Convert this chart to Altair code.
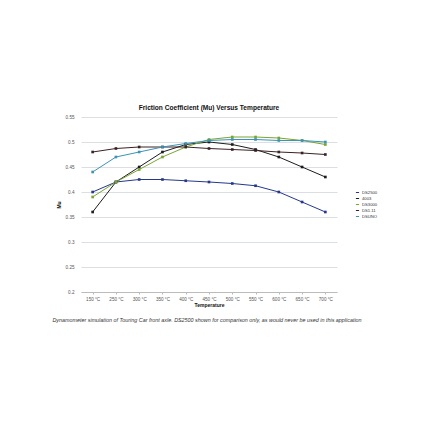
import altair as alt
import pandas as pd

temps = ["150 °C", "250 °C", "300 °C", "350 °C", "400 °C", "450 °C", "500 °C", "550 °C", "600 °C", "650 °C", "700 °C"]
series_names = ["DS2500", "4003", "DS3000", "DS1.11", "DSUNO"]
ds2500 = [0.40, 0.42, 0.425, 0.425, 0.4225, 0.42, 0.417, 0.4125, 0.40, 0.38, 0.36]
s4003 = [0.36, 0.42, 0.45, 0.48, 0.495, 0.50, 0.495, 0.485, 0.47, 0.45, 0.43]
ds3000 = [0.39, 0.42, 0.445, 0.47, 0.49, 0.505, 0.51, 0.51, 0.508, 0.503, 0.495]
ds111 = [0.48, 0.487, 0.49, 0.49, 0.49, 0.487, 0.485, 0.483, 0.48, 0.478, 0.475]
dsuno = [0.44, 0.47, 0.48, 0.49, 0.497, 0.503, 0.505, 0.505, 0.503, 0.503, 0.50]
colors = ["#26388c", "#1c1c1c", "#78a532", "#3a2224", "#3c93b6"]
y_ticks = [0.2, 0.25, 0.3, 0.35, 0.4, 0.45, 0.5, 0.55]
caption = "Dynamometer simulation of Touring Car front axle. DS2500 shown for comparison only, as would never be used in this application"

rows = []
for name, vals in zip(series_names, [ds2500, s4003, ds3000, ds111, dsuno]):
    for t, v in zip(temps, vals):
        rows.append({"Temperature": t, "Mu": v, "Series": name})
df = pd.DataFrame(rows)

FONT = "Liberation Sans"

x = alt.X("Temperature:N", sort=temps,
          scale=alt.Scale(type="point", padding=0.5),
          axis=alt.Axis(title="Temperature", labelAngle=0, labelFontSize=4.6, labelColor="#555",
                        titleFontSize=5, titleFontWeight="bold", titleColor="#111", titlePadding=2,
                        domainColor="#bbb", tickColor="#bbb", tickSize=2, labelPadding=2, grid=False))
y = alt.Y("Mu:Q", scale=alt.Scale(domain=[0.2, 0.55], nice=False, zero=False),
          axis=alt.Axis(title="Mu", values=y_ticks, format="~g", labelFontSize=4.6, labelColor="#555",
                        titleFontSize=5, titleFontWeight="bold", titleColor="#111", titlePadding=4,
                        domain=False, ticks=False, labelPadding=7, gridColor="#d2d6dc", gridWidth=0.8))
color = alt.Color("Series:N", scale=alt.Scale(domain=series_names, range=colors),
                  legend=alt.Legend(title=None, orient="none", legendX=274, legendY=73,
                                    labelFontSize=4.2, labelColor="#333", symbolSize=10,
                                    symbolType="stroke", symbolStrokeWidth=1, rowPadding=1,
                                    labelOffset=2, symbolOffset=0))

lines = alt.Chart(df).mark_line(strokeWidth=1).encode(x=x, y=y, color=color)
points = alt.Chart(df).mark_point(filled=True, size=7, shape="square", opacity=1).encode(
    x=x, y=y, color=alt.Color("Series:N", scale=alt.Scale(domain=series_names, range=colors), legend=None))

cap = alt.Chart(pd.DataFrame({"t": [caption]})).mark_text(
    fontSize=5.4, fontStyle="italic", font=FONT, color="#333", align="center", baseline="middle"
).encode(text="t:N", x=alt.value(126), y=alt.value(203))

chart = alt.layer(lines, points, cap).properties(
    width=256, height=175,
    title=alt.TitleParams("Friction Coefficient (Mu) Versus Temperature", fontSize=6.6, fontWeight="bold",
                          font=FONT, color="#111", anchor="middle", offset=2),
    autosize=alt.AutoSizeParams(type="none"),
    padding={"left": 73, "top": 109, "right": 70, "bottom": 100},
).configure(font=FONT).configure_view(stroke=None).configure_axis(labelFont=FONT, titleFont=FONT).configure_legend(labelFont=FONT)

chart.save("out.html", embed_options={"renderer": "svg", "actions": False})
